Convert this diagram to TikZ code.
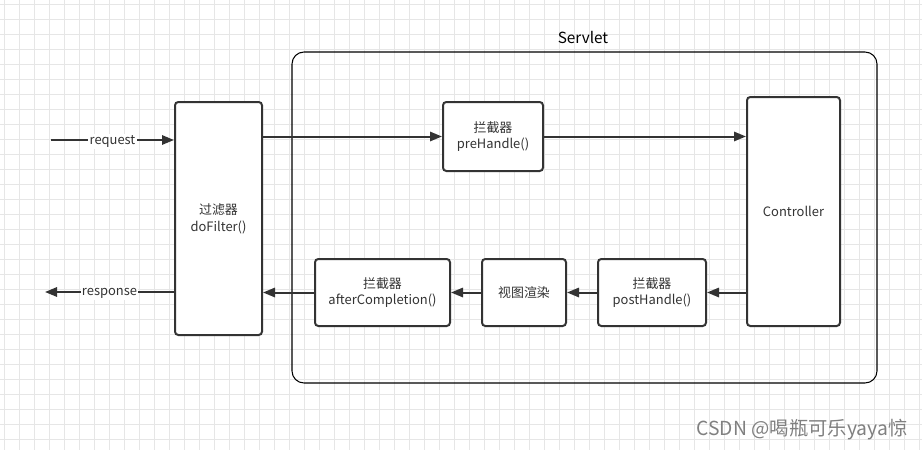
\documentclass[tikz,border=0pt]{standalone}
\usepackage{fontspec}
\setmainfont{Noto Sans CJK SC}
\usetikzlibrary{arrows.meta}

\definecolor{boxgray}{HTML}{333333}
\definecolor{textgray}{HTML}{333333}
\definecolor{gridgray}{HTML}{E6E6E6}

\begin{document}
\begin{tikzpicture}[
        x=0.75pt, y=-0.75pt,
        box/.style={draw=boxgray, line width=1.5pt, rounded corners=2.5pt, fill=white,
            text=textgray, align=center, inner sep=0pt, font=\fontsize{9.7}{12.5}\selectfont},
        flow/.style={draw=boxgray, line width=1.5pt, -{Triangle[length=9pt, width=7pt]}},
        edgelabel/.style={fill=white, text=textgray, inner sep=1pt, font=\fontsize{9.7}{12}\selectfont}
    ]
        % Canvas and background grid
        \useasboundingbox (0,0) rectangle (922,450);
        \fill[white] (0,0) rectangle (922,450);
        \foreach \gx in {4,19,...,919}
            \draw[gridgray, line width=0.6pt] (\gx,0) -- (\gx,450);
        \foreach \gy in {4,19,...,449}
            \draw[gridgray, line width=0.6pt] (0,\gy) -- (922,\gy);

        % Servlet container
        \draw[black, line width=0.8pt, rounded corners=9pt] (292,52) rectangle (877,383);
        \node[font=\fontsize{11.5}{13}\selectfont] (servlet) at (583,37) {Servlet};

        % Boxes
        \node[box, minimum width=65.25pt, minimum height=174.75pt] (filter) at (218.5,218.5) {过滤器\\doFilter()};
        \node[box, minimum width=75pt, minimum height=51.75pt] (pre) at (493,136.5) {拦截器\\preHandle()};
        \node[box, minimum width=69.75pt, minimum height=171.75pt] (ctrl) at (793.5,211.5) {Controller};
        \node[box, minimum width=81pt, minimum height=50.25pt] (post) at (652,292.5) {拦截器\\postHandle()};
        \node[box, minimum width=63pt, minimum height=50.25pt] (view) at (524,292.5) {视图渲染};
        \node[box, minimum width=101.25pt, minimum height=50.25pt] (after) at (382.5,292.5) {拦截器\\afterCompletion()};

        % Request path
        \coordinate (reqin) at (51,140);
        \coordinate (respout) at (45,292);
        \draw[flow] (reqin) -- node[edgelabel, yshift=-1pt] (reqlabel) {request} (filter.west |- reqin);
        \draw[flow] (filter.east |- pre.west) -- (pre.west);
        \draw[flow] (pre.east) -- (ctrl.west |- pre.east);

        % Response path
        \draw[flow] (ctrl.west |- post.east) -- (post.east);
        \draw[flow] (post.west) -- (view.east);
        \draw[flow] (view.west) -- (after.east);
        \draw[flow] (after.west) -- (filter.east |- after.west);
        \draw[flow] (filter.west |- respout) -- node[edgelabel, yshift=-1pt] (resplabel) {response} (respout);

        % Watermark
        \node[text=black!50, font=\fontsize{14.5}{16}\selectfont] (mark) at (802,430) {CSDN @喝瓶可乐yaya惊};
    \end{tikzpicture}
\end{document}
